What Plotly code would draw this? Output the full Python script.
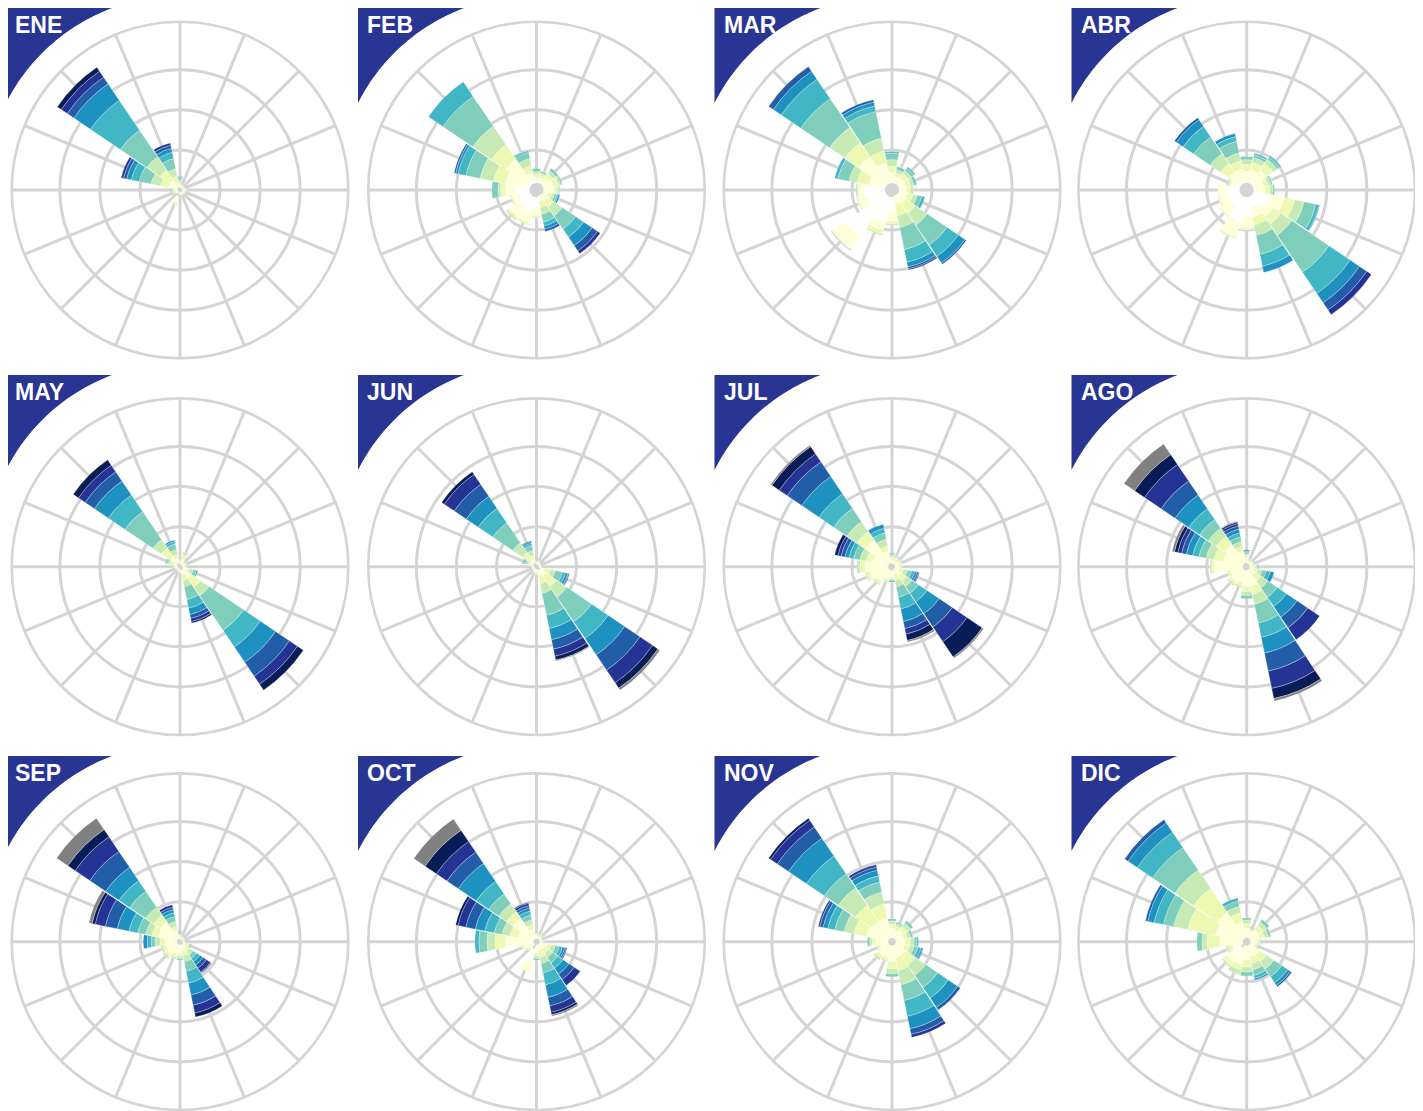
import plotly.graph_objects as go
import math

# ---------------- data ----------------
months = ["ENE", "FEB", "MAR", "ABR", "MAY", "JUN", "JUL", "AGO", "SEP", "OCT", "NOV", "DIC"]
directions = ["N", "NNE", "NE", "ENE", "E", "ESE", "SE", "SSE",
              "S", "SSW", "SW", "WSW", "W", "WNW", "NW", "NNW"]
dir_angles = [0, 22.5, 45, 67.5, 90, 112.5, 135, 157.5,
              180, 202.5, 225, 247.5, 270, 292.5, 315, 337.5]
speed_bins = ["b0", "b1", "b2", "b3", "b4", "b5", "b6", "b7", "b8", "b9", "b10"]
bin_colors = ["#ffffff", "#ffffd9", "#edf8b1", "#c7e9b4", "#7fcdbb", "#41b6c4",
              "#1d91c0", "#225ea8", "#253494", "#081d58", "#808080"]
grid_ticks = [5, 10, 15]
open_core = 0.9   # innermost part of the lowest bin left unpainted (grid shows through)

# frequency (%) per direction, stacked by speed bin (N ... NNW)
ENE = [[0.3,0.4,0.3,0.3,0.3,0.1],[0.3,0.2,0.1,0.1],[0.3,0.2,0.1],[0.3,0.2,0.1,0.1],
       [0.3,0.3,0.2,0.1,0.1],[0.3,0.2,0.1,0.1],[0.3,0.2,0.1,0.1],[0.3,0.2,0.1],
       [0.3,0.2,0.1],[0.8,0.8,0.2,0.1],[0.3,0.2,0.1],[0.3,0.3,0.2,0.1],
       [0.3,0.3,0.2,0.2,0.1,0.1],[0.4,1.1,1.0,1.2,1.5,1.0,0.6,0.4,0.3],
       [0.4,1.1,1.5,2.0,4.0,4.5,2.5,1.0,0.9,0.6],[0.4,0.6,0.8,0.9,1.3,0.8,0.5,0.4,0.3]]
FEB = [[1.2,0.4,0.4,0.3,0.4],[1.0,0.6,0.4,0.2,0.2],[1.0,0.9,0.6,0.4,0.4],[1.0,1.2,0.6,0.3,0.2],
       [1.0,1.2,0.4,0.2,0.1],[1.0,0.6,0.4,0.3,0.3,0.2,0.2],[0.8,0.9,0.9,1.3,2.0,1.2,1.3,0.8,0.4],
       [0.8,0.7,0.8,0.8,1.0,0.5,0.4,0.3],[2.2,1.0,0.2,0.1],[2.7,1.4,0.3,0.1],[2.7,1.4,0.3,0.2],
       [2.3,0.8,0.2,0.1],[2.6,1.3,0.6,0.3,0.8],[1.5,2.5,1.5,1.7,1.8,1.0,0.3,0.2],
       [1.2,3.4,2.2,2.8,4.5,2.2],[1.2,1.0,0.9,0.9,0.8,0.2]]
MAR = [[1.0,1.2,0.8,0.8,0.8,0.2],[1.0,0.7,0.5,0.4,0.4],[1.0,0.9,0.6,0.4,0.4,0.2],[1.0,0.8,0.6,0.4,0.4],
       [1.0,0.8,0.5,0.4],[1.0,1.0,0.7,0.5,0.6,0.4],[0.8,1.2,1.5,1.8,3.0,1.7,1.0,0.2],
       [0.8,1.0,1.5,1.5,2.8,1.6,0.6,0.25,0.15],[2.5,1.4,0.3,0.2],[4.2,1.0,0.4,0.2],
       [7.1,1.8,0.1,0.1,0.1],[3.3,1.0,0.3],[3.5,0.6,0.2,0.1,0.1],[1.5,1.5,1.5,1.0,1.4,0.4],
       [1.0,4.0,2.1,2.3,4.35,2.95,1.2,0.7],[1.0,2.5,1.5,1.6,3.4,0.7,0.5,0.3]]
ABR = [[1.2,1.2,0.8,0.6,0.4],[1.2,1.4,0.9,0.6,0.4,0.2],[1.2,1.8,1.0,0.6,0.4,0.2],[1.2,1.0,0.5,0.4,0.2],
       [1.2,1.2,0.5,0.4,0.2],[3.0,1.8,1.3,1.2,1.5,0.4,0.1],[2.7,1.3,1.2,1.6,5.6,3.2,1.4,1.1,0.7],
       [2.3,1.2,1.0,1.3,2.4,1.5,0.8],[3.3,1.5,0.2],[4.0,1.9,0.2,0.1],[2.5,1.4,0.2],
       [2.5,1.0,0.2],[2.5,1.0,0.1],[1.5,0.6,0.2,0.2,0.1],
       [1.2,1.5,1.3,1.5,2.5,1.6,1.0,0.3],[1.2,1.5,1.0,1.0,1.5,0.6,0.4]]
MAY = [[0.3,0.3,0.2],[0.4,0.6,0.6,0.3],[0.3,0.3,0.2],[0.3,0.3,0.2,0.1],
       [0.3,0.3,0.2,0.1],[0.4,0.5,0.4,0.4,0.4,0.2],[0.5,1.2,1.4,1.3,5.2,2.5,2.3,2.1,1.2,0.9],
       [0.5,0.6,0.7,0.8,1.6,1.1,0.8,0.5,0.4,0.2],[0.3,0.3,0.2],[0.3,0.2,0.1],[0.3,0.2,0.1],
       [0.3,0.2,0.1],[0.3,0.3,0.2,0.1,0.1],[0.4,0.5,0.4,0.3,0.2,0.1],
       [0.5,1.0,1.3,1.3,4.2,2.5,2.1,1.4,1.0,0.8],[0.5,0.6,0.5,0.6,0.7,0.3,0.2]]
JUN = [[0.3,0.2,0.1],[0.3,0.3,0.2],[0.3,0.2,0.1],[0.3,0.2,0.1],
       [0.3,0.2,0.1],[0.5,0.6,0.7,0.6,0.9,0.4,0.3,0.1,0.1],[0.5,1.0,1.5,1.6,3.7,2.5,2.5,2.3,1.9,0.8,0.3],
       [0.5,0.7,1.0,1.2,2.8,1.7,1.4,1.2,0.9,0.5,0.1],[0.3,0.4,0.2,0.1],[0.3,0.3,0.2],[0.3,0.2,0.1],
       [0.3,0.2,0.1],[0.3,0.2,0.1],[0.4,0.4,0.3,0.3,0.2,0.1,0.1],
       [0.5,0.6,1.0,1.5,3.0,2.2,1.8,1.8,1.5,0.4],[0.5,0.5,0.5,0.6,0.6,0.3,0.2,0.1]]
JUL = [[0.4,0.5,0.3,0.3,0.2],[0.4,0.5,0.3,0.2,0.1],[0.4,0.5,0.3,0.2,0.1],[0.4,0.5,0.3,0.1],
       [0.4,0.5,0.3,0.1],[0.4,0.6,0.5,0.5,0.5,0.4,0.3,0.2,0.1],[0.4,1.0,0.8,0.8,1.0,1.3,1.8,2.0,2.2,2.3,0.2],
       [0.4,0.6,0.8,0.8,1.3,1.5,1.6,0.9,0.7,0.8,0.2],[0.5,0.8,0.2,0.1,0.1,0.1,0.1],[0.5,1.2,0.2,0.1],
       [0.5,1.8,0.3,0.2],[0.5,2.3,0.4,0.2],[0.5,2.9,0.6,0.3,0.1],[0.5,2.0,0.8,0.8,0.8,0.6,0.5,0.5,0.4,0.4],
       [0.5,3.5,1.3,1.5,2.0,2.2,2.6,2.2,1.2,1.1,0.2],[0.5,1.5,0.7,0.8,0.8,0.6,0.5]]
AGO = [[0.5,0.6,0.3,0.2,0.2,0.1,0.1,0.1],[0.4,0.3,0.2,0.1],[0.4,0.3,0.2,0.1],[0.4,0.3,0.2,0.1],
       [0.4,0.4,0.3,0.2,0.2],[0.4,0.6,0.5,0.5,0.5,0.5,0.5],[0.4,0.9,0.9,1.0,1.4,1.4,1.6,1.6,1.8],
       [0.4,2.1,1.0,1.3,2.4,1.8,2.0,2.3,2.2,1.3,0.3],[0.5,2.0,0.6,0.5,0.4],[0.5,1.6,0.4,0.2],
       [0.5,1.8,0.4,0.2],[0.5,1.6,0.3,0.1],[0.5,3.6,0.3,0.2],[0.5,2.5,1.2,1.0,0.9,0.8,0.8,0.6,0.5,0.4,0.3],
       [0.5,2.8,1.3,1.2,1.3,1.65,2.05,2.1,2.5,1.5,1.6],[0.5,1.5,0.6,0.6,0.6,0.5,0.5,0.4,0.3,0.2,0.1]]
SEP = [[0.3,0.3,0.2,0.2,0.2,0.1],[0.3,0.2,0.1,0.1],[0.3,0.2,0.1,0.1],[0.3,0.2,0.1],
       [0.3,0.2,0.1],[0.4,0.4,0.3,0.2,0.2],[0.4,0.6,0.5,0.5,0.5,0.5,0.5,0.5,0.6,0.1,0.1],
       [0.4,0.8,0.6,0.8,1.2,1.5,1.5,1.3,1.0,0.5],[0.4,1.0,0.4,0.3,0.2],[0.4,1.2,0.4,0.2],
       [0.4,1.5,0.4,0.3],[0.4,1.4,0.4,0.3],[0.4,1.5,0.6,0.6,0.5,0.5,0.5],
       [0.4,2.4,0.8,0.8,1.0,1.1,1.5,1.5,1.3,0.4,0.4],[0.4,2.6,1.0,1.2,2.4,1.6,2.0,2.4,2.2,1.1,1.7],
       [0.4,1.0,0.6,0.6,0.6,0.5,0.4,0.3,0.3]]
OCT = [[0.4,0.4,0.2,0.1,0.1],[0.4,0.3,0.2,0.1],[0.4,0.3,0.2,0.1],[0.4,0.2,0.1,0.1],
       [0.4,0.3,0.2,0.1],[0.4,1.0,0.5,0.5,0.5,0.4,0.3,0.2,0.1],[0.4,0.8,0.6,0.6,0.8,0.8,0.9,0.8,0.9],
       [0.4,0.8,0.8,0.8,1.2,1.5,1.6,1.1,0.8,0.3,0.2],[0.4,1.0,0.4,0.3,0.2],[2.5,1.3,0.1],
       [0.4,0.8,0.2,0.1],[0.4,1.2,0.3,0.1],[0.4,3.5,1.3,1.0,1.0,0.5],
       [0.4,2.0,1.0,1.0,1.0,1.2,1.2,1.2,1.0,0.3],[0.4,3.1,1.0,1.2,1.5,1.9,2.7,1.7,1.6,1.7,1.7],
       [0.4,1.2,0.6,0.6,0.6,0.5,0.4,0.3,0.3,0.1]]
NOV = [[0.5,1.2,0.5,0.4,0.3],[0.5,1.0,0.5,0.3,0.2],[0.5,1.2,0.6,0.5,0.4],[0.5,1.0,0.5,0.4,0.3],
       [0.5,1.2,0.6,0.5,0.3,0.2],[0.5,1.2,0.6,0.5,0.5,0.4,0.2,0.1],[0.5,1.5,1.5,1.6,1.8,1.6,1.4,0.4],
       [0.5,1.6,1.6,1.8,2.0,2.0,1.6,0.7,0.4],[0.5,2.0,0.9,0.6,0.4],[0.5,1.5,0.4,0.2],
       [0.5,1.6,0.4,0.3],[0.5,1.1,0.3,0.1],[0.5,1.6,0.4,0.3,0.3],
       [0.5,2.8,1.6,1.2,1.2,0.9,0.6,0.4,0.2],[0.5,2.6,2.4,2.6,2.1,2.7,2.7,1.7,1.0,0.3],
       [0.5,2.5,1.8,1.5,1.3,0.8,0.7,0.4,0.3]]
DIC = [[0.5,1.2,0.6,0.4,0.3],[0.5,0.8,0.3,0.2,0.1],[0.5,1.3,0.7,0.5,0.4],[0.5,1.2,0.6,0.5,0.3],
       [0.5,0.8,0.3,0.2,0.1],[0.5,0.6,0.3,0.2,0.1],[0.5,1.5,1.0,1.1,1.2,0.9,0.4,0.2],
       [0.5,1.5,0.8,0.8,0.7,0.4,0.2],[0.5,1.8,0.9,0.6,0.5],[0.5,2.4,0.7,0.6],
       [2.0,1.1,0.5,0.2],[0.5,1.4,0.5,0.2],[0.5,2.9,1.6,0.6,0.65],
       [0.5,3.5,3.5,1.8,1.3,1.2,0.8,0.3],[0.5,3.9,3.6,2.8,3.4,2.3,1.4,0.5],[0.5,2.0,1.2,0.8,0.7,0.4]]

month_data = [ENE, FEB, MAR, ABR, MAY, JUN, JUL, AGO, SEP, OCT, NOV, DIC]

# ---------------- layout geometry (page pixels) ----------------
OFF = 8                      # page body margin
W, H = 1423 - OFF, 1111 - OFF
col_cx = [180, 536.5, 892, 1246.7]
row_cy = [190, 566.7, 941.7]
R_PX = 168.3
badge_left = [6, 358, 714.5, 1071.5]
badge_top = [8, 375, 756]
GRID = "#d4d4d4"
BADGE = "#283593"

fig = go.Figure()
shapes = []
annotations = []

def px2paper(x, y):
    return (x - OFF) / W, 1 - (y - OFF) / H

for i, (name, data) in enumerate(zip(months, month_data)):
    r, c = divmod(i, 4)
    pid = "polar" if i == 0 else f"polar{i+1}"
    cx, cy = col_cx[c], row_cy[r]
    # lowest bin: inner part left open (grid visible), rest painted white
    low = [d[0] for d in data]
    core = [min(v, open_core) for v in low]
    fig.add_trace(go.Barpolar(
        r=core, theta=dir_angles, width=[21.8] * 16,
        marker=dict(color="rgba(255,255,255,0)", line=dict(width=0)),
        subplot=pid, showlegend=False, hoverinfo="skip"))
    fig.add_trace(go.Barpolar(
        r=[v - k for v, k in zip(low, core)], theta=dir_angles, width=[21.8] * 16,
        marker=dict(color=bin_colors[0], line=dict(color="white", width=0.3)),
        subplot=pid, showlegend=False, hoverinfo="skip"))
    for b in range(1, len(speed_bins)):
        vals = [(d[b] if b < len(d) else 0) for d in data]
        fig.add_trace(go.Barpolar(
            r=vals, theta=dir_angles, width=[21.8] * 16,
            marker=dict(color=bin_colors[b], line=dict(color="white", width=0.3)),
            subplot=pid, showlegend=False, hoverinfo="skip"))
    x0, y1 = px2paper(cx - R_PX, cy - R_PX)
    x1, y0 = px2paper(cx + R_PX, cy + R_PX)
    x0, y0 = max(x0, 0), max(y0, 0)
    fig.update_layout(**{pid: dict(
        domain=dict(x=[x0, x1], y=[y0, y1]),
        bgcolor="white", barmode="stack", bargap=0, hole=0,
        radialaxis=dict(range=[0, 21], tickvals=grid_ticks, showticklabels=False,
                        ticks="", showline=False, gridcolor=GRID, gridwidth=2.6),
        angularaxis=dict(rotation=90, direction="clockwise", tickmode="linear",
                         tick0=0, dtick=22.5, showticklabels=False, ticks="",
                         showline=True, linecolor=GRID, linewidth=2.6,
                         gridcolor=GRID, gridwidth=2.6),
    )})
    # title badge: corner region outside a circle
    L, T = badge_left[c], badge_top[r]
    ccx, ccy = L + 174, T + 184
    a1 = math.atan2(T - ccy, (L + 106) - ccx)
    a2 = math.atan2((T + 95) - ccy, L - ccx)
    r1 = math.hypot((L + 106) - ccx, T - ccy)
    r2 = math.hypot(L - ccx, (T + 95) - ccy)
    pts = [(L, T), (L + 106, T)]
    n = 30
    for k in range(1, n):
        t = k / n
        a = a1 + (a2 - a1) * t
        rr = r1 + (r2 - r1) * t
        pts.append((ccx + rr * math.cos(a), ccy + rr * math.sin(a)))
    pts.append((L, T + 95))
    path = "M " + " L ".join(f"{px2paper(x, y)[0]:.5f},{px2paper(x, y)[1]:.5f}" for x, y in pts) + " Z"
    shapes.append(dict(type="path", xref="paper", yref="paper", path=path,
                       fillcolor=BADGE, line=dict(width=0), layer="above"))
    tx, ty = px2paper(L + 7, T + 17)
    annotations.append(dict(x=tx, y=ty, xref="paper", yref="paper", text=f"<b>{name}</b>",
                            showarrow=False, xanchor="left", yanchor="middle",
                            font=dict(family="Liberation Sans, Arial", size=23, color="white")))

fig.update_layout(width=W, height=H, margin=dict(l=0, r=0, t=0, b=0),
                  paper_bgcolor="white", plot_bgcolor="white", showlegend=False,
                  shapes=shapes, annotations=annotations)
fig.write_html("out.html")
